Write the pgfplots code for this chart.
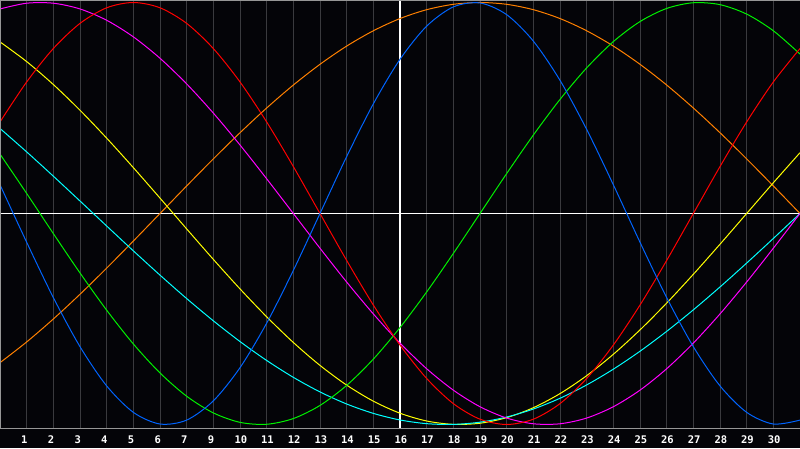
\documentclass[border=0pt]{standalone}
\usepackage{fontspec}
\usepackage{pgfplots}
\usepackage{pgfplotstable}
\pgfplotsset{compat=1.18}
\newfontfamily\ticksfont{DejaVu Sans Mono}

\definecolor{bg}{RGB}{4,4,8}
\definecolor{gridgray}{RGB}{58,58,62}
\definecolor{bordergray}{RGB}{150,150,150}
\definecolor{cblue}{RGB}{0,100,255}
\definecolor{cred}{RGB}{255,0,0}
\definecolor{cgreen}{RGB}{0,240,0}
\definecolor{cmagenta}{RGB}{255,0,255}
\definecolor{cyellow}{RGB}{255,255,0}
\definecolor{corange}{RGB}{255,128,0}
\definecolor{ccyan}{RGB}{0,255,255}

% cycles, one row per grid step
\pgfplotstableread{
x  blue    red     green   magenta yellow  orange  cyan
0  0.1362  0.4339  0.2817  0.9694  0.8133 -0.7071  0.4031
1 -0.1362  0.6235  0.0951  0.9966  0.7199 -0.6088  0.2920
2 -0.3984  0.7818 -0.0951  0.9966  0.6112 -0.5000  0.1769
3 -0.6311  0.9010 -0.2817  0.9694  0.4894 -0.3827  0.0592
4 -0.8170  0.9749 -0.4582  0.9158  0.3572 -0.2588 -0.0592
5 -0.9423  1.0000 -0.6182  0.8372  0.2174 -0.1305 -0.1769
6 -0.9977  0.9749 -0.7557  0.7357  0.0730  0.0000 -0.2920
7 -0.9791  0.9010 -0.8660  0.6142 -0.0730  0.1305 -0.4031
8 -0.8879  0.7818 -0.9450  0.4759 -0.2174  0.2588 -0.5085
9 -0.7308  0.6235 -0.9898  0.3247 -0.3572  0.3827 -0.6068
10 -0.5196  0.4339 -0.9989  0.1646 -0.4894  0.5000 -0.6965
11 -0.2698  0.2225 -0.9718  0.0000 -0.6112  0.6088 -0.7765
12  0.0000  0.0000 -0.9096 -0.1646 -0.7199  0.7071 -0.8456
13  0.2698 -0.2225 -0.8146 -0.3247 -0.8133  0.7934 -0.9028
14  0.5196 -0.4339 -0.6901 -0.4759 -0.8894  0.8660 -0.9473
15  0.7308 -0.6235 -0.5406 -0.6142 -0.9465  0.9239 -0.9786
16  0.8879 -0.7818 -0.3717 -0.7357 -0.9834  0.9659 -0.9960
17  0.9791 -0.9010 -0.1893 -0.8372 -0.9993  0.9914 -0.9996
18  0.9977 -0.9749  0.0000 -0.9158 -0.9940  1.0000 -0.9890
19  0.9423 -1.0000  0.1893 -0.9694 -0.9675  0.9914 -0.9646
20  0.8170 -0.9749  0.3717 -0.9966 -0.9204  0.9659 -0.9267
21  0.6311 -0.9010  0.5406 -0.9966 -0.8536  0.9239 -0.8757
22  0.3984 -0.7818  0.6901 -0.9694 -0.7686  0.8660 -0.8125
23  0.1362 -0.6235  0.8146 -0.9158 -0.6673  0.7934 -0.7378
24 -0.1362 -0.4339  0.9096 -0.8372 -0.5517  0.7071 -0.6528
25 -0.3984 -0.2225  0.9718 -0.7357 -0.4245  0.6088 -0.5586
26 -0.6311  0.0000  0.9989 -0.6142 -0.2881  0.5000 -0.4566
27 -0.8170  0.2225  0.9898 -0.4759 -0.1456  0.3827 -0.3482
28 -0.9423  0.4339  0.9450 -0.3247  0.0000  0.2588 -0.2349
29 -0.9977  0.6235  0.8660 -0.1646  0.1456  0.1305 -0.1183
30 -0.9791  0.7818  0.7557  0.0000  0.2881  0.0000  0.0000
}\cycles

\begin{document}
\begin{tikzpicture}
\fill[bg] (0,0) rectangle (800pt,448pt);
\begin{axis}[
    at={(0pt,20pt)}, anchor=south west,
    width=800pt, height=428pt, scale only axis,
    xmin=0, xmax=30, ymin=-1.0166, ymax=1.0118,
    axis line style={draw=none},
    major tick length=0pt,
    ytick=\empty,
    xtick={1,...,29},
    xticklabels={1,2,3,4,5,6,7,9,10,11,12,13,14,15,16,17,18,19,20,21,22,23,24,25,26,27,28,29,30},
    xticklabel style={font=\ticksfont\bfseries\fontsize{10.5}{10.5}\selectfont,
        text=white, anchor=base west, inner sep=0pt, xshift=-5.7pt, yshift=-15pt},
    xmajorgrids,
    grid style={gridgray, line width=1pt},
    extra x ticks={15}, extra x tick labels={},
    extra x tick style={grid=major, grid style={white, line width=1.7pt}},
    extra y ticks={0}, extra y tick labels={},
    extra y tick style={grid=major, grid style={white, line width=1.7pt}},
    every axis plot/.append style={line width=1pt, smooth, no markers},
]
\addplot[corange] table[x=x, y=orange] {\cycles};
\addplot[cyellow] table[x=x, y=yellow] {\cycles};
\addplot[ccyan] table[x=x, y=cyan] {\cycles};
\addplot[cmagenta] table[x=x, y=magenta] {\cycles};
\addplot[cgreen] table[x=x, y=green] {\cycles};
\addplot[cred] table[x=x, y=red] {\cycles};
\addplot[cblue] table[x=x, y=blue] {\cycles};
\end{axis}
\draw[bordergray, line width=1pt] (0.5pt,20pt) -- (0.5pt,447.5pt) -- (800pt,447.5pt);
\draw[bordergray, line width=1.3pt] (0pt,19.5pt) -- (800pt,19.5pt);
\pgfresetboundingbox
\useasboundingbox (0,0) rectangle (800pt,448pt);
\end{tikzpicture}
\end{document}
